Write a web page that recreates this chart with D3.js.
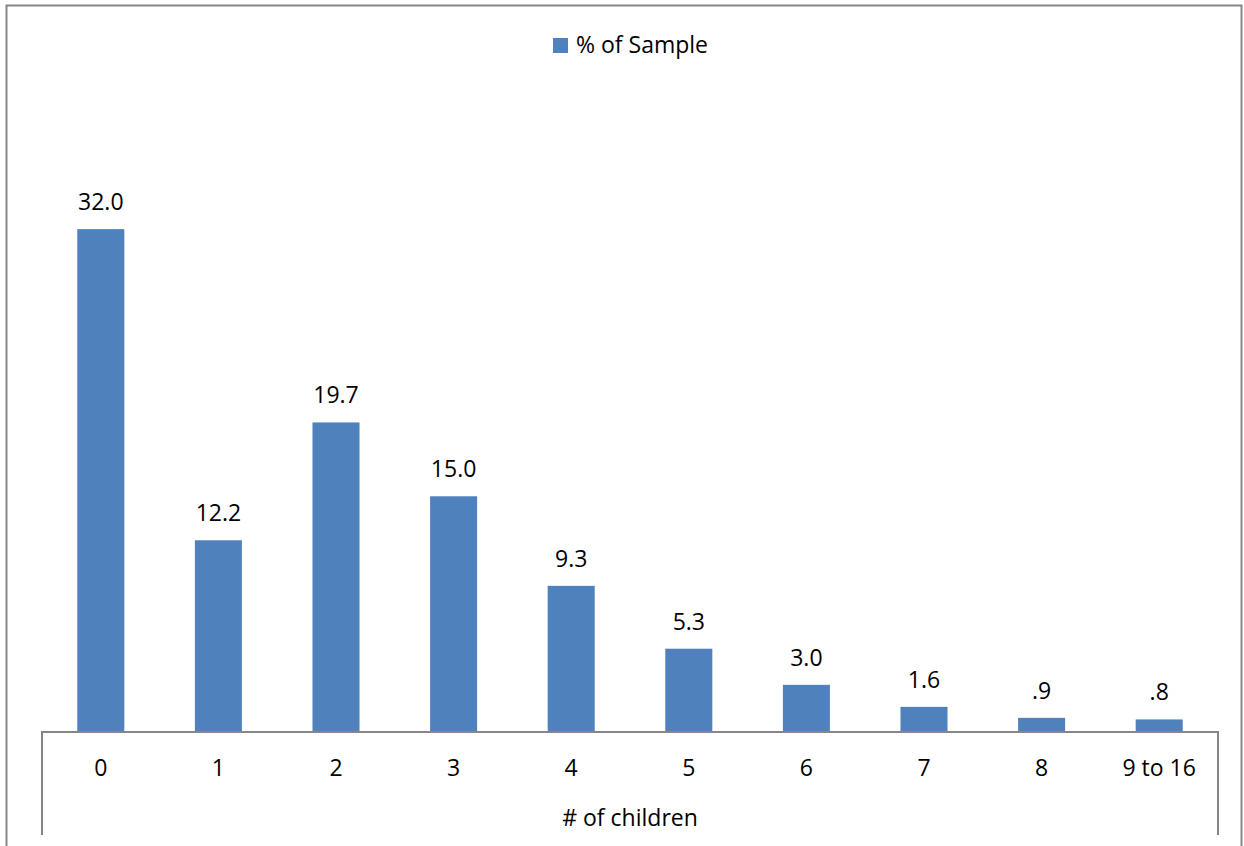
<!DOCTYPE html>
<html>
<head>
<meta charset="utf-8">
<script src="https://cdn.jsdelivr.net/npm/d3@7"></script>
<style>
  html, body { margin: 0; padding: 0; background: #fff; }
  svg { display: block; }
  text { font-family: "Open Sans", "Noto Sans", sans-serif; fill: #000; }
</style>
</head>
<body>
<div id="chart"></div>
<script>
// Number of children per respondent, share of sample (%)
const categories = ["0", "1", "2", "3", "4", "5", "6", "7", "8", "9 to 16"];
const percentOfSample = [32.0, 12.2, 19.7, 15.0, 9.3, 5.3, 3.0, 1.6, 0.9, 0.8];
const valueLabels = ["32.0", "12.2", "19.7", "15.0", "9.3", "5.3", "3.0", "1.6", ".9", ".8"];
const seriesName = "% of Sample";
const axisTitle = "# of children";

const W = 1244, H = 846;
const barColor = "#4f81bd";
const gridGray = "#868686";
const fontSize = 23;

const svg = d3.select("#chart").append("svg")
  .attr("width", W).attr("height", H);

// chart frame (bottom edge runs past the page)
svg.append("rect")
  .attr("x", 6.5).attr("y", 5.5)
  .attr("width", 1235).attr("height", 900)
  .attr("fill", "#fff")
  .attr("stroke", gridGray).attr("stroke-width", 2);

const plot = { left: 42, right: 1218, top: 182, bottom: 732 };

const x = d3.scaleBand()
  .domain(categories)
  .range([plot.left, plot.right])
  .paddingInner(0.6)
  .paddingOuter(0.3);

const y = d3.scaleLinear()
  .domain([0, 35])
  .range([plot.bottom, plot.top]);

// bars
svg.append("g").selectAll("rect")
  .data(percentOfSample)
  .join("rect")
  .attr("x", (d, i) => x(categories[i]))
  .attr("y", d => y(d))
  .attr("width", x.bandwidth())
  .attr("height", d => y(0) - y(d))
  .attr("fill", barColor);

// value labels
svg.append("g").selectAll("text")
  .data(percentOfSample)
  .join("text")
  .attr("x", (d, i) => x(categories[i]) + x.bandwidth() / 2)
  .attr("y", d => y(d) - 19)
  .attr("text-anchor", "middle")
  .attr("font-size", fontSize)
  .text((d, i) => valueLabels[i]);

// category axis with group box extending down around the title
const axis = d3.axisBottom(x).tickSize(0).tickPadding(28);
const gAxis = svg.append("g")
  .attr("transform", `translate(0,${plot.bottom})`)
  .call(axis);
gAxis.select(".domain").remove();
gAxis.selectAll("text")
  .attr("font-size", fontSize)
  .attr("font-family", "\"Open Sans\", \"Noto Sans\", sans-serif")
  .attr("fill", "#000");

svg.append("path")
  .attr("d", `M${plot.left},835 V${plot.bottom} H${plot.right} V835`)
  .attr("fill", "none")
  .attr("stroke", gridGray)
  .attr("stroke-width", 2);

svg.append("text")
  .attr("x", (plot.left + plot.right) / 2)
  .attr("y", 826)
  .attr("text-anchor", "middle")
  .attr("font-size", fontSize)
  .text(axisTitle);

// legend
const legend = svg.append("g").attr("transform", "translate(553,38)");
legend.append("rect")
  .attr("width", 15).attr("height", 15)
  .attr("fill", barColor);
legend.append("text")
  .attr("x", 23).attr("y", 15)
  .attr("font-size", fontSize)
  .text(seriesName);
</script>
</body>
</html>
